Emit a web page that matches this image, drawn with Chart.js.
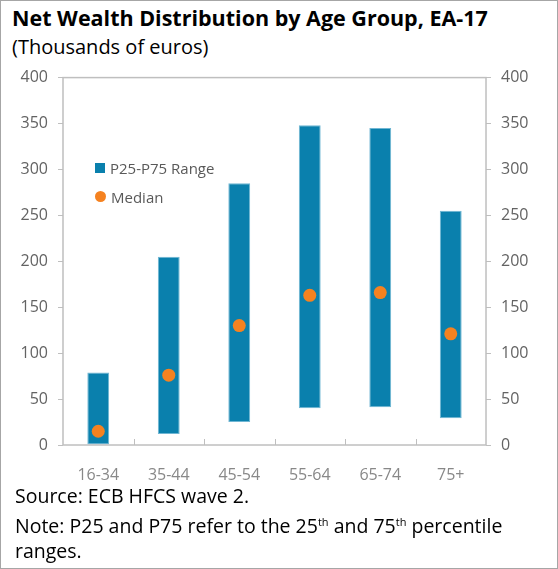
<!DOCTYPE html>
<html>
<head>
<meta charset="utf-8">
<script src="https://cdn.jsdelivr.net/npm/chart.js@4"></script>
<style>
  html, body { margin: 0; padding: 0; background: #fff; }
  body { width: 558px; height: 569px; position: relative; overflow: hidden; font-family: "Open Sans", "Noto Sans", sans-serif; }
  .frame { position: absolute; left: 0; top: 0; width: 556px; height: 567px; border: 1px solid #a6a6a6; }
  .title { position: absolute; left: 12px; top: 3px; font-size: 21.5px; font-weight: bold; color: #000; }
  .subtitle { position: absolute; left: 12px; top: 33px; font-size: 20px; color: #000; }
  #wrap { position: absolute; left: 0; top: 58px; width: 556px; height: 427px; }
  .legend { position: absolute; left: 95px; top: 153px; font-size: 15px; color: #595959; }
  .legend div { height: 29px; display: flex; align-items: center; }
  .sq { width: 10px; height: 10px; background: #0a80ad; margin-right: 5px; }
  .dot { width: 11px; height: 11px; border-radius: 50%; background: #f58220; margin-right: 5px; }
  .foot { position: absolute; left: 15px; font-size: 19.5px; color: #000; white-space: nowrap; }
  sup { font-size: 11px; }
</style>
</head>
<body>
<div class="frame"></div>
<div class="title">Net Wealth Distribution by Age Group, EA-17</div>
<div class="subtitle">(Thousands of euros)</div>
<div id="wrap"><canvas id="c"></canvas></div>
<div class="legend">
  <div><span class="sq"></span>P25-P75 Range</div>
  <div><span class="dot"></span>Median</div>
</div>
<div class="foot" style="top:482px">Source: ECB HFCS wave 2.</div>
<div class="foot" style="top:512px">Note: P25 and P75 refer to the 25<sup>th</sup> and 75<sup>th</sup> percentile</div>
<div class="foot" style="top:537px">ranges.</div>
<script>
const ageGroups = ['16-34', '35-44', '45-54', '55-64', '65-74', '75+'];
const p25 = [0, 12, 25, 40, 41, 29];
const p75 = [79, 205, 285, 348, 345, 255];
const median = [15, 76, 130, 163, 166, 121];

// frame round the plot and small inward ticks on the category axis
const framePlugin = {
    id: 'frame',
    afterDraw(chart) {
        const { ctx, chartArea: a, scales } = chart;
        ctx.save();
        ctx.strokeStyle = '#bfbfbf';
        ctx.lineWidth = 1.5;
        ctx.strokeRect(a.left, a.top, a.right - a.left, a.bottom - a.top);
        const x = scales.x;
        const half = (x.getPixelForValue(1) - x.getPixelForValue(0)) / 2;
        ctx.lineWidth = 1;
        for (let i = 1; i < ageGroups.length; i++) {
            const px = Math.round(x.getPixelForValue(i) - half) + 0.5;
            ctx.beginPath();
            ctx.moveTo(px, a.bottom);
            ctx.lineTo(px, a.bottom - 6);
            ctx.stroke();
        }
        ctx.restore();
    }
};

const yTicks = { color: '#636363', font: { family: 'Open Sans', size: 16 }, stepSize: 50, padding: 10 };

new Chart(document.getElementById('c'), {
    data: {
        labels: ageGroups,
        datasets: [
            {
                type: 'line',
                label: 'Median',
                data: median,
                showLine: false,
                pointRadius: 6.5,
                pointHoverRadius: 6.5,
                pointBackgroundColor: '#f58220',
                pointBorderWidth: 0,
                order: 0
            },
            {
                type: 'bar',
                label: 'P25-P75 Range',
                data: p25.map((lo, i) => [lo, p75[i]]),
                backgroundColor: '#0a80ad',
                borderColor: '#6fb6d3',
                borderWidth: 1,
                borderSkipped: false,
                barPercentage: 0.31,
                categoryPercentage: 1,
                order: 1
            }
        ]
    },
    options: {
        responsive: true,
        maintainAspectRatio: false,
        animation: false,
        layout: { padding: { top: 11 } },
        plugins: { legend: { display: false }, tooltip: { enabled: false } },
        scales: {
            x: {
                offset: true,
                grid: { display: false },
                border: { display: false },
                ticks: { color: '#888', font: { family: 'Open Sans', size: 16 }, padding: 13 },
                afterFit(s) { s.height = 40; }
            },
            y: {
                position: 'left',
                min: 0, max: 400,
                grid: { drawOnChartArea: false, tickLength: 5, color: '#bfbfbf' },
                border: { display: false },
                ticks: yTicks,
                afterFit(s) { s.width = 63; }
            },
            y2: {
                position: 'right',
                min: 0, max: 400,
                grid: { drawOnChartArea: false, tickLength: 5, color: '#bfbfbf' },
                border: { display: false },
                ticks: yTicks,
                afterFit(s) { s.width = 70; }
            }
        }
    },
    plugins: [framePlugin]
});
</script>
</body>
</html>
